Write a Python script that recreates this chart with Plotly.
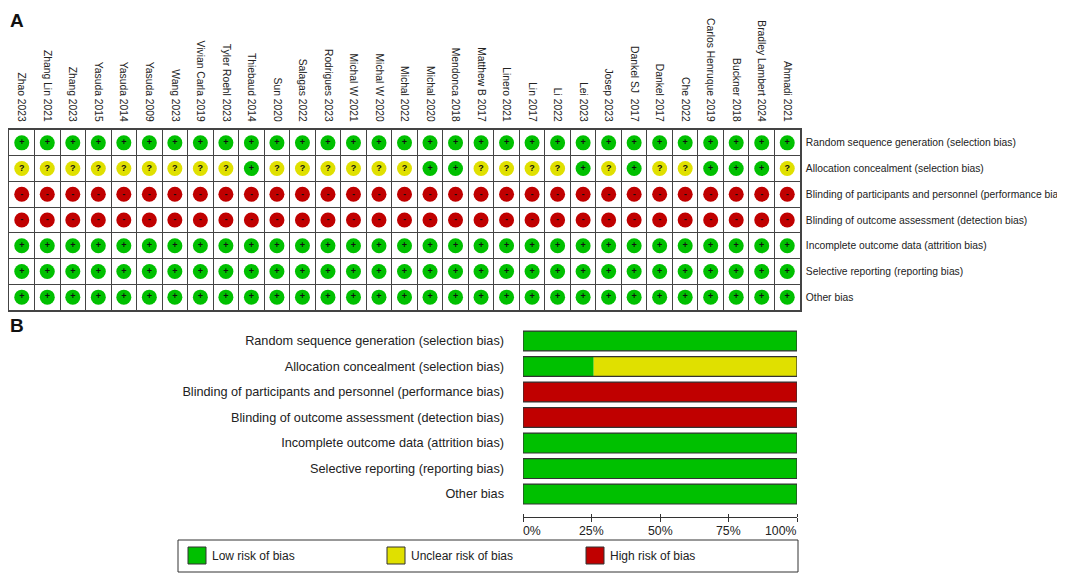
import plotly.graph_objects as go

# ---------------- data ----------------
studies = ["Zhao 2023", "Zhang Lin 2021", "Zhang 2023", "Yasuda 2015", "Yasuda 2014",
           "Yasuda 2009", "Wang 2023", "Vivian Carla 2019", "Tyler Roehl 2023", "Thiebaud 2014",
           "Sun 2020", "Salagas 2022", "Rodrigues 2023", "Michal W 2021", "Michal W 2020",
           "Michal 2022", "Michal 2020", "Mendonca 2018", "Matthew B 2017", "Linero 2021",
           "Lin 2017", "Li 2022", "Lei 2023", "Josep 2023", "Dankel SJ  2017",
           "Dankel 2017", "Che 2022", "Carlos Henruque 2019", "Buckner 2018",
           "Bradley Lambert 2024", "Ahmadi 2021"]

domains = ["Random sequence generation (selection bias)",
           "Allocation concealment (selection bias)",
           "Blinding of participants and personnel (performance bias)",
           "Blinding of outcome assessment (detection bias)",
           "Incomplete outcome data (attrition bias)",
           "Selective reporting (reporting bias)",
           "Other bias"]

# "+" low risk, "?" unclear risk, "-" high risk (one entry per study, in order)
random_sequence = ["+", "+", "+", "+", "+", "+", "+", "+", "+", "+", "+", "+", "+", "+", "+", "+",
                   "+", "+", "+", "+", "+", "+", "+", "+", "+", "+", "+", "+", "+", "+", "+"]
allocation = ["?", "?", "?", "?", "?", "?", "?", "?", "?", "+", "?", "?", "?", "?", "?", "?",
              "+", "+", "?", "?", "?", "?", "+", "?", "+", "?", "?", "+", "+", "+", "?"]
blinding_participants = ["-", "-", "-", "-", "-", "-", "-", "-", "-", "-", "-", "-", "-", "-", "-", "-",
                         "-", "-", "-", "-", "-", "-", "-", "-", "-", "-", "-", "-", "-", "-", "-"]
blinding_outcome = ["-", "-", "-", "-", "-", "-", "-", "-", "-", "-", "-", "-", "-", "-", "-", "-",
                    "-", "-", "-", "-", "-", "-", "-", "-", "-", "-", "-", "-", "-", "-", "-"]
incomplete_data = ["+", "+", "+", "+", "+", "+", "+", "+", "+", "+", "+", "+", "+", "+", "+", "+",
                   "+", "+", "+", "+", "+", "+", "+", "+", "+", "+", "+", "+", "+", "+", "+"]
selective_reporting = ["+", "+", "+", "+", "+", "+", "+", "+", "+", "+", "+", "+", "+", "+", "+", "+",
                       "+", "+", "+", "+", "+", "+", "+", "+", "+", "+", "+", "+", "+", "+", "+"]
other_bias = ["+", "+", "+", "+", "+", "+", "+", "+", "+", "+", "+", "+", "+", "+", "+", "+",
              "+", "+", "+", "+", "+", "+", "+", "+", "+", "+", "+", "+", "+", "+", "+"]

legend_labels = ["Low risk of bias", "Unclear risk of bias", "High risk of bias"]
pct_ticks = [0, 25, 50, 75, 100]

# ---------------- styling ----------------
GREEN = "#00C000"
YELLOW = "#E0E000"
RED = "#C00000"
color_of = {"+": GREEN, "?": YELLOW, "-": RED}
FONT = "Liberation Sans, Arial, sans-serif"
PAGE_W, PAGE_H = 1065, 576
OFF = 8                      # default page body margin of the html page
W, H = PAGE_W - OFF, PAGE_H - OFF

rows = [random_sequence, allocation, blinding_participants, blinding_outcome,
        incomplete_data, selective_reporting, other_bias]
n_s, n_d = len(studies), len(domains)

fig = go.Figure()

# ---------------- panel A: traffic-light grid ----------------
xs, ys, cols, txt = [], [], [], []
for r, row in enumerate(rows):
    for c, v in enumerate(row):
        xs.append(c)
        ys.append(r)
        cols.append(color_of[v])
        txt.append("<b>" + v + "</b>")

fig.add_trace(go.Scatter(
    x=xs, y=ys, mode="markers+text", text=txt,
    textposition="middle center",
    textfont=dict(family=FONT, size=9, color="#111"),
    marker=dict(size=15, color=cols, line=dict(width=0)),
    xaxis="x", yaxis="y", showlegend=False, hoverinfo="skip"))

# ---------------- panel B: summary bars ----------------
low_pct = [100.0 * row.count("+") / n_s for row in rows]
unc_pct = [100.0 * row.count("?") / n_s for row in rows]
high_pct = [100.0 * row.count("-") / n_s for row in rows]
idx = list(range(n_d))
bw = 0.78

fig.add_trace(go.Bar(y=idx, x=low_pct, base=[0] * n_d, orientation="h",
                     marker=dict(color=GREEN, line=dict(width=0)), width=bw,
                     xaxis="x2", yaxis="y2", showlegend=False, hoverinfo="skip"))
fig.add_trace(go.Bar(y=idx, x=unc_pct, base=low_pct, orientation="h",
                     marker=dict(color=YELLOW, line=dict(width=0)), width=bw,
                     xaxis="x2", yaxis="y2", showlegend=False, hoverinfo="skip"))
fig.add_trace(go.Bar(y=idx, x=high_pct,
                     base=[a + b for a, b in zip(low_pct, unc_pct)], orientation="h",
                     marker=dict(color=RED, line=dict(width=0)), width=bw,
                     xaxis="x2", yaxis="y2", showlegend=False, hoverinfo="skip"))
fig.add_trace(go.Bar(y=idx, x=[a + b + c for a, b, c in zip(low_pct, unc_pct, high_pct)],
                     base=[0] * n_d, orientation="h",
                     marker=dict(color="rgba(0,0,0,0)", line=dict(width=1.2, color="#333")),
                     width=bw, xaxis="x2", yaxis="y2", showlegend=False, hoverinfo="skip"))

# ---------------- layout ----------------
def px_x(p):
    return max(0.0, (p - OFF) / W)

def px_y(p):
    return min(1.0, 1 - (p - OFF) / H)

half_x = [i - 0.5 for i in range(n_s + 1)]
half_y = [i - 0.5 for i in range(n_d + 1)]

fig.update_layout(
    width=W, height=H,
    margin=dict(l=0, r=0, t=0, b=0),
    paper_bgcolor="white", plot_bgcolor="white",
    barmode="overlay",
    font=dict(family=FONT, color="#222"),
    xaxis=dict(domain=[px_x(9), px_x(800)], range=[-0.5, n_s - 0.5],
               side="top", tickmode="array", tickvals=list(range(n_s)), ticktext=studies,
               tickangle=90, tickfont=dict(size=10.3, color="#222"), ticks="",
               ticklabelstandoff=3,
               showgrid=False, zeroline=False,
               showline=True, mirror=True, linecolor="#444", linewidth=1.5,
               minor=dict(tickmode="array", tickvals=half_x, showgrid=True,
                          gridcolor="#444", gridwidth=1, ticks=""),
               anchor="y", automargin=False, fixedrange=True),
    yaxis=dict(domain=[px_y(310), px_y(130)], range=[n_d - 0.5, -0.5],
               side="right", tickmode="array", tickvals=list(range(n_d)), ticktext=domains,
               tickfont=dict(size=10.3, color="#222"), ticks="", ticklabelstandoff=2,
               showgrid=False, zeroline=False,
               showline=True, mirror=True, linecolor="#444", linewidth=1.5,
               minor=dict(tickmode="array", tickvals=half_y, showgrid=True,
                          gridcolor="#444", gridwidth=1, ticks=""),
               anchor="x", automargin=False, fixedrange=True),
    xaxis2=dict(domain=[px_x(523), px_x(797)], range=[0, 100],
                tickmode="array", tickvals=pct_ticks, showticklabels=False,
                ticks="outside", ticklen=4, tickcolor="#333", tickwidth=1,
                minor=dict(tickmode="array", tickvals=pct_ticks, ticks="inside",
                           ticklen=3, tickcolor="#333", tickwidth=1, showgrid=False),
                showgrid=False, zeroline=False, showline=True, linecolor="#333", linewidth=1,
                anchor="y2", automargin=False, fixedrange=True),
    yaxis2=dict(domain=[px_y(517), px_y(325.7)], range=[n_d - 0.1, -0.6],
                tickmode="array", tickvals=idx, ticktext=domains,
                tickfont=dict(size=12.7, color="#222"), ticks="", ticklabelstandoff=18,
                showgrid=False, zeroline=False, showline=False,
                anchor="x2", automargin=False, fixedrange=True),
)

# percentage tick labels (edge labels kept inside the axis span)
for t in pct_ticks:
    anchor = "left" if t == pct_ticks[0] else ("right" if t == pct_ticks[-1] else "center")
    fig.add_annotation(text=f"{t}%", xref="x2", yref="paper", x=t, y=px_y(530.5),
                       xanchor=anchor, yanchor="middle", showarrow=False,
                       xshift=(-2 if anchor == "left" else (2 if anchor == "right" else 0)),
                       font=dict(size=12.3, color="#222", family=FONT))

# panel letters
fig.add_annotation(text="<b>A</b>", xref="paper", yref="paper", x=px_x(8), y=px_y(8),
                   xanchor="left", yanchor="top", showarrow=False,
                   font=dict(size=19, color="#111", family=FONT))
fig.add_annotation(text="<b>B</b>", xref="paper", yref="paper", x=px_x(8), y=px_y(325.5),
                   xanchor="left", yanchor="middle", showarrow=False,
                   font=dict(size=19, color="#111", family=FONT))

# legend box
fig.add_shape(type="rect", xref="paper", yref="paper",
              x0=px_x(178), x1=px_x(798), y0=px_y(572), y1=px_y(540),
              line=dict(color="#333", width=1), fillcolor="white", layer="below")
swatch_x = [188, 387, 586]
for lab, col, sx in zip(legend_labels, [GREEN, YELLOW, RED], swatch_x):
    fig.add_shape(type="rect", xref="paper", yref="paper",
                  x0=px_x(sx), x1=px_x(sx + 18), y0=px_y(564), y1=px_y(547),
                  line=dict(color="#333", width=1), fillcolor=col)
    fig.add_annotation(text=lab, xref="paper", yref="paper", x=px_x(sx + 22), y=px_y(555.5),
                       xanchor="left", yanchor="middle", showarrow=False,
                       font=dict(size=12, color="#222", family=FONT))

fig.write_html("out.html")
